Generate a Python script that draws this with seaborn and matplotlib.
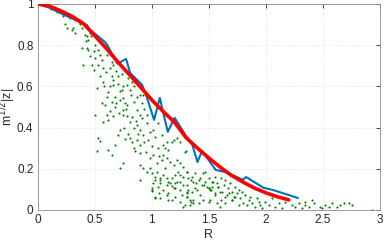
import matplotlib
matplotlib.use("Agg")
import matplotlib.pyplot as plt
import pandas as pd
import seaborn as sns

# scattered samples (R, m^1/2 |z|)
scatter_r = [
    0.12, 0.17, 0.22, 0.28, 0.33, 0.36,
    0.225, 0.24, 0.254, 0.30, 0.31, 0.33, 0.37, 0.385, 0.415, 0.43, 0.46, 0.47,
    0.44, 0.42, 0.50, 0.385, 0.43, 0.44, 0.49, 0.53, 0.55, 0.46, 0.50, 0.56,
    0.40, 0.48, 0.49, 0.53, 0.605, 0.634, 0.65, 0.663, 0.634, 0.69, 0.707,
    0.65, 0.575, 0.52, 0.634, 0.663, 0.72, 0.75, 0.78, 0.81, 0.84, 0.795,
    0.824, 0.736, 0.605, 0.56, 0.59, 0.65, 0.68, 0.69, 0.72, 0.75, 0.766,
    0.78, 0.84, 0.868, 0.897, 0.926, 0.91, 0.50, 0.605, 0.634, 0.575, 0.62,
    0.663, 0.75, 0.745, 0.786, 0.81, 0.868, 0.897, 0.91, 0.868, 0.84, 0.897,
    0.956, 0.985, 1.014, 0.53, 0.55, 0.52, 0.62, 0.65, 0.68, 0.707, 0.72,
    0.766, 0.81, 0.824, 0.868, 0.84, 0.897, 0.853, 0.897, 0.926, 0.97, 1.03,
    1.087, 1.10, 1.13, 1.117, 1.146, 1.175, 1.19, 1.22, 1.248, 1.30, 0.72,
    0.75, 0.897, 0.926, 0.956, 0.985, 1.06, 1.10, 1.13, 1.16, 1.19, 1.22,
    1.248, 1.277, 1.233, 1.204, 1.175, 1.146, 1.10, 1.073, 1.043, 1.03, 1.014,
    1.073, 1.13, 1.175, 1.204, 1.248, 1.277, 1.307, 0.897, 1.0, 1.0, 1.06,
    1.03, 1.13, 1.204, 1.248, 1.307, 1.307, 1.073, 1.146, 1.248, 1.29, 1.307,
    1.29, 1.31, 1.32, 1.34, 1.35, 1.365, 1.38, 1.39, 1.32, 1.35, 1.38, 1.41,
    1.42, 1.44, 1.45, 1.47, 1.47, 1.48, 1.50, 1.51, 1.53, 1.50, 1.52, 1.54,
    1.555, 1.57, 1.584, 1.60, 1.61, 1.628, 1.64, 1.657, 1.67, 1.687, 1.70,
    1.716, 1.73, 1.745, 1.76, 1.774, 1.79, 1.80, 1.82, 1.833, 1.848, 1.86,
    1.877, 1.906, 1.92, 1.935, 1.95, 1.965, 1.994, 2.023, 2.052, 2.08, 2.11,
    2.14, 2.17, 2.23, 2.257, 2.286, 2.315, 2.345, 2.374, 2.40, 2.418, 2.345,
    2.476, 2.49, 2.52, 2.55, 2.578, 2.622, 2.65, 2.68, 2.725, 2.754, 2.93,
    1.34, 1.365, 1.41, 1.45, 1.50, 1.60, 1.64, 1.70, 1.76, 1.31, 1.42, 1.555,
    1.61,
    1.014, 1.043, 1.087, 1.117, 1.0, 1.029, 1.073, 1.131, 1.16, 1.058, 1.102,
    1.146, 1.19, 1.219, 1.248, 1.277, 1.204, 1.263, 1.307, 1.336, 1.365, 1.394,
    1.453, 1.497, 1.526, 1.555, 1.584, 1.614, 1.643, 1.672, 1.701, 1.73, 1.511,
    1.57, 1.336, 1.277, 1.175, 1.029, 1.0,
    0.58, 0.62, 0.68, 0.71, 0.76, 0.79, 0.83, 0.86, 0.88, 0.93, 0.95, 0.98,
    1.0, 1.05, 0.66, 0.70, 0.60, 0.57, 0.55, 0.77, 0.93, 0.96, 1.05, 0.82, 0.74,
]
scatter_z = [
    0.975, 0.96, 0.95, 0.93, 0.92, 0.91,
    0.94, 0.90, 0.885, 0.874, 0.882, 0.858, 0.90, 0.882, 0.85, 0.842, 0.858, 0.842,
    0.826, 0.818, 0.80, 0.785, 0.785, 0.777, 0.769, 0.777, 0.753, 0.745, 0.737, 0.728,
    0.704, 0.704, 0.68, 0.704, 0.753, 0.756, 0.72, 0.704, 0.688, 0.672, 0.648,
    0.648, 0.623, 0.59, 0.60, 0.607, 0.575, 0.60, 0.607, 0.583, 0.60, 0.64,
    0.623, 0.583, 0.55, 0.518, 0.51, 0.526, 0.502, 0.518, 0.534, 0.542, 0.518,
    0.51, 0.526, 0.55, 0.559, 0.559, 0.518, 0.462, 0.462, 0.478, 0.429, 0.437,
    0.454, 0.486, 0.462, 0.454, 0.429, 0.486, 0.462, 0.445, 0.413, 0.397, 0.389,
    0.421, 0.38, 0.389, 0.348, 0.335, 0.287, 0.292, 0.267, 0.316, 0.364, 0.389,
    0.345, 0.348, 0.332, 0.34, 0.30, 0.316, 0.284, 0.276, 0.364, 0.34, 0.356,
    0.364, 0.316, 0.332, 0.30, 0.292, 0.332, 0.34, 0.348, 0.332, 0.287, 0.203,
    0.227, 0.219, 0.203, 0.186, 0.203, 0.26, 0.267, 0.251, 0.235, 0.219, 0.243,
    0.227, 0.21, 0.186, 0.17, 0.154, 0.138, 0.17, 0.154, 0.186, 0.146, 0.13,
    0.13, 0.122, 0.114, 0.13, 0.138, 0.162, 0.186, 0.146, 0.106, 0.09, 0.081,
    0.057, 0.073, 0.106, 0.097, 0.081, 0.122, 0.057, 0.049, 0.04, 0.025, 0.065,
    0.283, 0.186, 0.154, 0.146, 0.162, 0.138, 0.178, 0.13, 0.097, 0.089, 0.105, 0.146,
    0.154, 0.122, 0.178, 0.186, 0.138, 0.113, 0.154, 0.097, 0.113, 0.105, 0.097, 0.138,
    0.162, 0.13, 0.113, 0.089, 0.154, 0.122, 0.146, 0.073, 0.105, 0.13, 0.089,
    0.065, 0.113, 0.081, 0.097, 0.057, 0.089, 0.033, 0.073, 0.024, 0.049, 0.065,
    0.033, 0.016, 0.057, 0.041, 0.024, 0.008, 0.041, 0.024, 0.057, 0.016, 0.033,
    0.008, 0.041, 0.024, 0.016, 0.033, 0.008, 0.024, 0.016, 0.049, 0.033, 0.041,
    0.016, 0.008, 0.024, 0.016, 0.033, 0.013, 0.024, 0.036, 0.033, 0.024, 0.0,
    0.041, 0.049, 0.033, 0.049, 0.041, 0.016, 0.033, 0.049, 0.024, 0.065, 0.073, 0.073,
    0.049,
    0.267, 0.226, 0.243, 0.202, 0.178, 0.162, 0.145, 0.153, 0.129, 0.113, 0.097,
    0.081, 0.105, 0.137, 0.17, 0.121, 0.064, 0.073, 0.089, 0.048, 0.032, 0.097,
    0.121, 0.105, 0.137, 0.081, 0.113, 0.089, 0.064, 0.081, 0.048, 0.064, 0.048,
    0.032, 0.024, 0.016, 0.048, 0.064, 0.097,
    0.60, 0.57, 0.55, 0.47, 0.40, 0.37, 0.45, 0.43, 0.37, 0.33, 0.28, 0.25,
    0.31, 0.30, 0.63, 0.61, 0.67, 0.69, 0.65, 0.49, 0.49, 0.46, 0.42, 0.56, 0.66,
]

# binned average (blue)
binned_r = [0.0, 0.1, 0.2, 0.3, 0.43, 0.46, 0.59, 0.61, 0.70, 0.775, 0.81, 0.915,
            0.95, 1.02, 1.07, 1.14, 1.20, 1.31, 1.355, 1.40, 1.44, 1.56, 1.645,
            1.80, 1.825, 1.98, 2.06, 2.28]
binned_z = [1.0, 0.982, 0.955, 0.93, 0.898, 0.874, 0.815, 0.80, 0.71, 0.733, 0.665,
            0.607, 0.558, 0.437, 0.544, 0.379, 0.447, 0.35, 0.316, 0.233, 0.286,
            0.194, 0.184, 0.146, 0.16, 0.107, 0.097, 0.058]

# smooth fit (red)
fit_r = [0.0, 0.1, 0.2, 0.3, 0.4, 0.5, 0.6, 0.7, 0.8, 0.9, 1.0, 1.1, 1.2,
         1.3, 1.4, 1.5, 1.6, 1.7, 1.8, 1.9, 2.0, 2.1, 2.2]
fit_z = [1.0, 0.99, 0.967, 0.94, 0.905, 0.846, 0.785, 0.72, 0.659, 0.597, 0.534,
         0.478, 0.425, 0.351, 0.30, 0.252, 0.207, 0.167, 0.135, 0.106, 0.083,
         0.064, 0.049]

sns.set_style("white")
plt.rcParams["font.family"] = ["Liberation Sans", "DejaVu Sans"]

fig = plt.figure(figsize=(3.84, 2.43), dpi=100)
ax = fig.add_axes([0.098, 0.136, 0.892, 0.848])

pts = pd.DataFrame({"R": scatter_r, "z": scatter_z})
sns.scatterplot(data=pts, x="R", y="z", s=2.4, color=(0.0, 0.5, 0.0),
                linewidth=0, ax=ax, zorder=2)
sns.lineplot(x=binned_r, y=binned_z, color="#0072BD", linewidth=1.5,
             sort=False, ax=ax, zorder=3)
sns.lineplot(x=fit_r, y=fit_z, color="#FF0000", linewidth=2.6,
             sort=False, ax=ax, zorder=4)

ax.set_xlim(0, 3)
ax.set_ylim(0, 1)
ax.set_xticks([0, 0.5, 1, 1.5, 2, 2.5, 3])
ax.set_xticklabels(["0", "0.5", "1", "1.5", "2", "2.5", "3"])
ax.set_yticks([0, 0.2, 0.4, 0.6, 0.8, 1])
ax.set_yticklabels(["0", "0.2", "0.4", "0.6", "0.8", "1"])
ax.grid(True, color="#dedede", linestyle=":", linewidth=0.6)
ax.tick_params(direction="in", length=3, width=0.6, top=True, right=True,
               labelsize=8.5, colors="#262626", pad=3)
for sp in ax.spines.values():
    sp.set_color("#8c8c8c")
    sp.set_linewidth(0.6)
ax.set_xlabel("R", fontsize=9, color="#262626", labelpad=2)
ax.set_ylabel("m$^{1/2}$|z|", fontsize=9, color="#262626")
ax.yaxis.set_label_coords(-0.056, 0.5)

fig.savefig("out.png", dpi=100)
